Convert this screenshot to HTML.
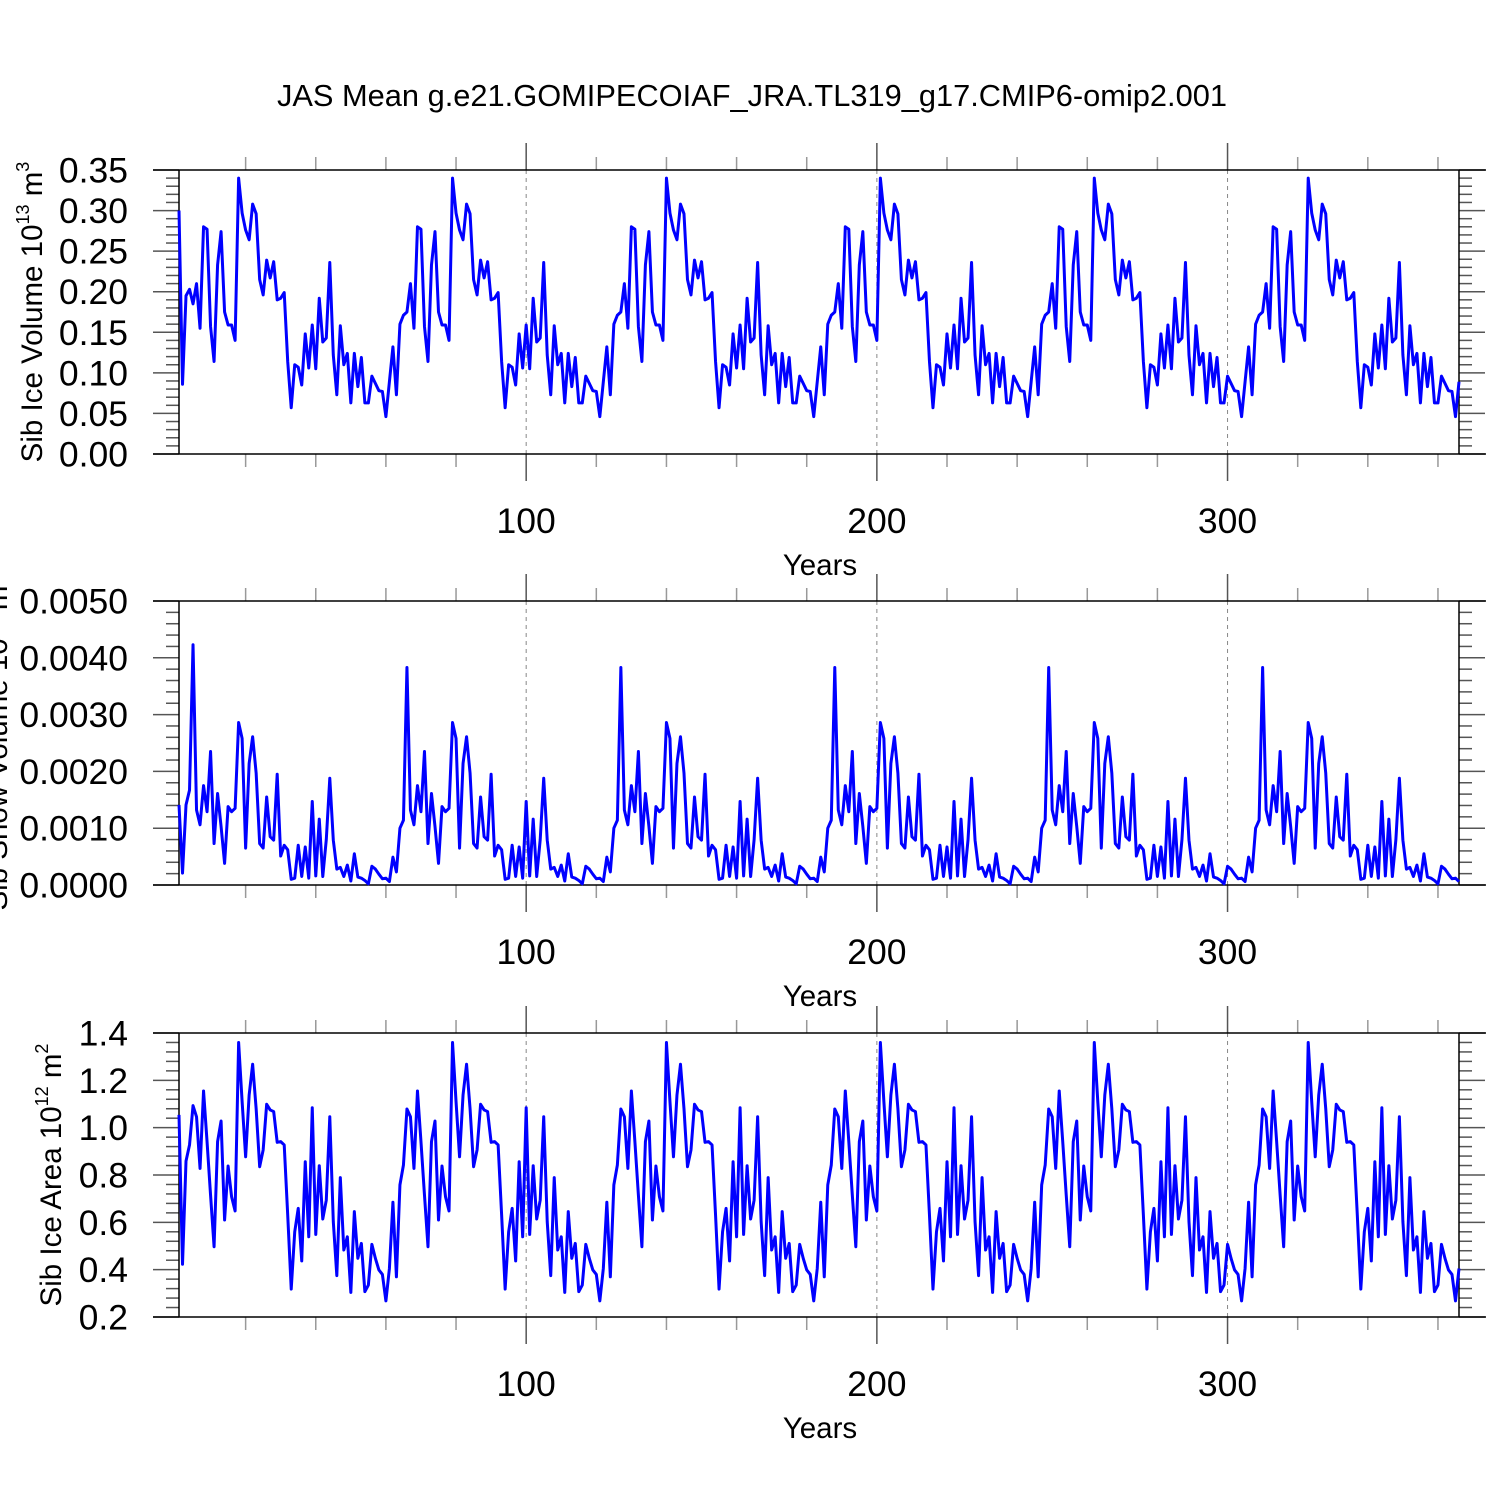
<!DOCTYPE html>
<html><head><meta charset="utf-8">
<style>
html,body{margin:0;padding:0;background:#fff;}
svg{display:block;font-family:"Liberation Sans",Arial,sans-serif;}
</style></head>
<body>
<svg id="chart" width="1500" height="1500" viewBox="0 0 1500 1500" xmlns="http://www.w3.org/2000/svg">
<rect width="1500" height="1500" fill="#fff"/>
<text x="752" y="106" font-size="30.8" text-anchor="middle">JAS Mean g.e21.GOMIPECOIAF_JRA.TL319_g17.CMIP6-omip2.001</text>
</svg>
<script>
const years = Array.from({length:366},(_,i)=>i+1);
const iceVolume = [0.30,0.086,0.195,0.203,0.185,
0.21,0.155,0.28,0.277,0.157,0.114,0.233,0.274,0.175,0.159,0.159,0.14,0.34,0.297,0.276,0.264,0.308,0.296,0.215,0.196,0.239,0.217,0.237,0.19,0.192,0.199,0.114,0.057,0.11,0.107,0.085,0.148,0.106,0.159,0.105,0.192,0.138,0.143,0.236,0.122,0.073,0.158,0.11,0.124,0.063,0.124,0.083,0.119,0.063,0.063,0.096,0.087,0.078,0.077,0.046,0.089,
0.132,0.073,0.16,0.171,0.175,
0.21,0.155,0.28,0.277,0.157,0.114,0.233,0.274,0.175,0.159,0.159,0.14,0.34,0.297,0.276,0.264,0.308,0.296,0.215,0.196,0.239,0.217,0.237,0.19,0.192,0.199,0.114,0.057,0.11,0.107,0.085,0.148,0.106,0.159,0.105,0.192,0.138,0.143,0.236,0.122,0.073,0.158,0.11,0.124,0.063,0.124,0.083,0.119,0.063,0.063,0.096,0.087,0.078,0.077,0.046,0.089,
0.132,0.073,0.16,0.171,0.175,
0.21,0.155,0.28,0.277,0.157,0.114,0.233,0.274,0.175,0.159,0.159,0.14,0.34,0.297,0.276,0.264,0.308,0.296,0.215,0.196,0.239,0.217,0.237,0.19,0.192,0.199,0.114,0.057,0.11,0.107,0.085,0.148,0.106,0.159,0.105,0.192,0.138,0.143,0.236,0.122,0.073,0.158,0.11,0.124,0.063,0.124,0.083,0.119,0.063,0.063,0.096,0.087,0.078,0.077,0.046,0.089,
0.132,0.073,0.16,0.171,0.175,
0.21,0.155,0.28,0.277,0.157,0.114,0.233,0.274,0.175,0.159,0.159,0.14,0.34,0.297,0.276,0.264,0.308,0.296,0.215,0.196,0.239,0.217,0.237,0.19,0.192,0.199,0.114,0.057,0.11,0.107,0.085,0.148,0.106,0.159,0.105,0.192,0.138,0.143,0.236,0.122,0.073,0.158,0.11,0.124,0.063,0.124,0.083,0.119,0.063,0.063,0.096,0.087,0.078,0.077,0.046,0.089,
0.132,0.073,0.16,0.171,0.175,
0.21,0.155,0.28,0.277,0.157,0.114,0.233,0.274,0.175,0.159,0.159,0.14,0.34,0.297,0.276,0.264,0.308,0.296,0.215,0.196,0.239,0.217,0.237,0.19,0.192,0.199,0.114,0.057,0.11,0.107,0.085,0.148,0.106,0.159,0.105,0.192,0.138,0.143,0.236,0.122,0.073,0.158,0.11,0.124,0.063,0.124,0.083,0.119,0.063,0.063,0.096,0.087,0.078,0.077,0.046,0.089,
0.132,0.073,0.16,0.171,0.175,
0.21,0.155,0.28,0.277,0.157,0.114,0.233,0.274,0.175,0.159,0.159,0.14,0.34,0.297,0.276,0.264,0.308,0.296,0.215,0.196,0.239,0.217,0.237,0.19,0.192,0.199,0.114,0.057,0.11,0.107,0.085,0.148,0.106,0.159,0.105,0.192,0.138,0.143,0.236,0.122,0.073,0.158,0.11,0.124,0.063,0.124,0.083,0.119,0.063,0.063,0.096,0.087,0.078,0.077,0.046,0.089];
const snowVolume = [0.00141,0.00021,0.00141,0.00167,0.00423,
0.00132,0.00106,0.00175,0.00129,0.00235,0.00073,0.00161,0.00103,0.00038,0.00138,0.00129,0.00135,0.00286,0.00258,0.00065,0.00214,0.00261,0.00197,0.00073,0.00065,0.00155,0.00085,0.00079,0.00195,0.00051,0.0007,0.00062,0.0001,0.00012,0.0007,0.00015,0.00067,0.00012,0.00147,0.00016,0.00116,0.00015,0.0008,0.00188,0.00079,0.00028,0.00031,0.00015,0.00035,0.00007,0.00055,0.00014,0.00012,0.00008,0.00002,0.00033,0.00028,0.00019,0.00011,0.00012,0.00006,
0.00049,0.00023,0.001,0.00114,0.00383,
0.00132,0.00106,0.00175,0.00129,0.00235,0.00073,0.00161,0.00103,0.00038,0.00138,0.00129,0.00135,0.00286,0.00258,0.00065,0.00214,0.00261,0.00197,0.00073,0.00065,0.00155,0.00085,0.00079,0.00195,0.00051,0.0007,0.00062,0.0001,0.00012,0.0007,0.00015,0.00067,0.00012,0.00147,0.00016,0.00116,0.00015,0.0008,0.00188,0.00079,0.00028,0.00031,0.00015,0.00035,0.00007,0.00055,0.00014,0.00012,0.00008,0.00002,0.00033,0.00028,0.00019,0.00011,0.00012,0.00006,
0.00049,0.00023,0.001,0.00114,0.00383,
0.00132,0.00106,0.00175,0.00129,0.00235,0.00073,0.00161,0.00103,0.00038,0.00138,0.00129,0.00135,0.00286,0.00258,0.00065,0.00214,0.00261,0.00197,0.00073,0.00065,0.00155,0.00085,0.00079,0.00195,0.00051,0.0007,0.00062,0.0001,0.00012,0.0007,0.00015,0.00067,0.00012,0.00147,0.00016,0.00116,0.00015,0.0008,0.00188,0.00079,0.00028,0.00031,0.00015,0.00035,0.00007,0.00055,0.00014,0.00012,0.00008,0.00002,0.00033,0.00028,0.00019,0.00011,0.00012,0.00006,
0.00049,0.00023,0.001,0.00114,0.00383,
0.00132,0.00106,0.00175,0.00129,0.00235,0.00073,0.00161,0.00103,0.00038,0.00138,0.00129,0.00135,0.00286,0.00258,0.00065,0.00214,0.00261,0.00197,0.00073,0.00065,0.00155,0.00085,0.00079,0.00195,0.00051,0.0007,0.00062,0.0001,0.00012,0.0007,0.00015,0.00067,0.00012,0.00147,0.00016,0.00116,0.00015,0.0008,0.00188,0.00079,0.00028,0.00031,0.00015,0.00035,0.00007,0.00055,0.00014,0.00012,0.00008,0.00002,0.00033,0.00028,0.00019,0.00011,0.00012,0.00006,
0.00049,0.00023,0.001,0.00114,0.00383,
0.00132,0.00106,0.00175,0.00129,0.00235,0.00073,0.00161,0.00103,0.00038,0.00138,0.00129,0.00135,0.00286,0.00258,0.00065,0.00214,0.00261,0.00197,0.00073,0.00065,0.00155,0.00085,0.00079,0.00195,0.00051,0.0007,0.00062,0.0001,0.00012,0.0007,0.00015,0.00067,0.00012,0.00147,0.00016,0.00116,0.00015,0.0008,0.00188,0.00079,0.00028,0.00031,0.00015,0.00035,0.00007,0.00055,0.00014,0.00012,0.00008,0.00002,0.00033,0.00028,0.00019,0.00011,0.00012,0.00006,
0.00049,0.00023,0.001,0.00114,0.00383,
0.00132,0.00106,0.00175,0.00129,0.00235,0.00073,0.00161,0.00103,0.00038,0.00138,0.00129,0.00135,0.00286,0.00258,0.00065,0.00214,0.00261,0.00197,0.00073,0.00065,0.00155,0.00085,0.00079,0.00195,0.00051,0.0007,0.00062,0.0001,0.00012,0.0007,0.00015,0.00067,0.00012,0.00147,0.00016,0.00116,0.00015,0.0008,0.00188,0.00079,0.00028,0.00031,0.00015,0.00035,0.00007,0.00055,0.00014,0.00012,0.00008,0.00002,0.00033,0.00028,0.00019,0.00011,0.00012,0.00006];
const iceArea = [1.054,0.423,0.859,0.927,1.093,
1.046,0.828,1.155,0.941,0.715,0.497,0.941,1.028,0.61,0.838,0.708,0.648,1.36,1.11,0.877,1.138,1.268,1.08,0.835,0.906,1.099,1.075,1.068,0.938,0.941,0.927,0.631,0.318,0.56,0.659,0.437,0.856,0.539,1.084,0.549,0.839,0.614,0.694,1.046,0.603,0.375,0.789,0.483,0.539,0.304,0.645,0.448,0.511,0.307,0.335,0.507,0.448,0.399,0.38,0.268,0.405,
0.685,0.37,0.758,0.842,1.079,
1.046,0.828,1.155,0.941,0.715,0.497,0.941,1.028,0.61,0.838,0.708,0.648,1.36,1.11,0.877,1.138,1.268,1.08,0.835,0.906,1.099,1.075,1.068,0.938,0.941,0.927,0.631,0.318,0.56,0.659,0.437,0.856,0.539,1.084,0.549,0.839,0.614,0.694,1.046,0.603,0.375,0.789,0.483,0.539,0.304,0.645,0.448,0.511,0.307,0.335,0.507,0.448,0.399,0.38,0.268,0.405,
0.685,0.37,0.758,0.842,1.079,
1.046,0.828,1.155,0.941,0.715,0.497,0.941,1.028,0.61,0.838,0.708,0.648,1.36,1.11,0.877,1.138,1.268,1.08,0.835,0.906,1.099,1.075,1.068,0.938,0.941,0.927,0.631,0.318,0.56,0.659,0.437,0.856,0.539,1.084,0.549,0.839,0.614,0.694,1.046,0.603,0.375,0.789,0.483,0.539,0.304,0.645,0.448,0.511,0.307,0.335,0.507,0.448,0.399,0.38,0.268,0.405,
0.685,0.37,0.758,0.842,1.079,
1.046,0.828,1.155,0.941,0.715,0.497,0.941,1.028,0.61,0.838,0.708,0.648,1.36,1.11,0.877,1.138,1.268,1.08,0.835,0.906,1.099,1.075,1.068,0.938,0.941,0.927,0.631,0.318,0.56,0.659,0.437,0.856,0.539,1.084,0.549,0.839,0.614,0.694,1.046,0.603,0.375,0.789,0.483,0.539,0.304,0.645,0.448,0.511,0.307,0.335,0.507,0.448,0.399,0.38,0.268,0.405,
0.685,0.37,0.758,0.842,1.079,
1.046,0.828,1.155,0.941,0.715,0.497,0.941,1.028,0.61,0.838,0.708,0.648,1.36,1.11,0.877,1.138,1.268,1.08,0.835,0.906,1.099,1.075,1.068,0.938,0.941,0.927,0.631,0.318,0.56,0.659,0.437,0.856,0.539,1.084,0.549,0.839,0.614,0.694,1.046,0.603,0.375,0.789,0.483,0.539,0.304,0.645,0.448,0.511,0.307,0.335,0.507,0.448,0.399,0.38,0.268,0.405,
0.685,0.37,0.758,0.842,1.079,
1.046,0.828,1.155,0.941,0.715,0.497,0.941,1.028,0.61,0.838,0.708,0.648,1.36,1.11,0.877,1.138,1.268,1.08,0.835,0.906,1.099,1.075,1.068,0.938,0.941,0.927,0.631,0.318,0.56,0.659,0.437,0.856,0.539,1.084,0.549,0.839,0.614,0.694,1.046,0.603,0.375,0.789,0.483,0.539,0.304,0.645,0.448,0.511,0.307,0.335,0.507,0.448,0.399,0.38,0.268,0.405];
const xTickLabels = ["100","200","300"];
const xTickValues = [100,200,300];
const volTicks = ["0.00","0.05","0.10","0.15","0.20","0.25","0.30","0.35"];
const snowTicks = ["0.0000","0.0010","0.0020","0.0030","0.0040","0.0050"];
const areaTicks = ["0.2","0.4","0.6","0.8","1.0","1.2","1.4"];

const NS = "http://www.w3.org/2000/svg";
const svg = document.getElementById('chart');
const X0 = 179, X1 = 1459, XMIN = 1, XMAX = 366;
function xs(v){ return X0 + (v - XMIN) / (XMAX - XMIN) * (X1 - X0); }
function mk(tag, attrs, parent){
  const e = document.createElementNS(NS, tag);
  for (const k in attrs) e.setAttribute(k, attrs[k]);
  (parent || svg).appendChild(e);
  return e;
}
function drawPanel(key, top, bot, ymin, ymax, minorStep, ticks, series, ylabel, ylabelX){
  const g = mk('g', {});
  
  
  const ys = v => bot - (v - ymin) / (ymax - ymin) * (bot - top);
  xTickValues.forEach(v => {
    const l = mk('line', {x1: xs(v), x2: xs(v), y1: top, y2: bot, stroke: '#888', 'stroke-width': 1, 'stroke-dasharray': '4,4'}, g);
    
    
  });
  for (let v = 20; v <= 360; v += 20) {
    const major = v % 100 === 0;
    const len = major ? 27 : 13;
    mk('line', {x1: xs(v), x2: xs(v), y1: top - len, y2: top, stroke: major ? '#555' : '#999', 'stroke-width': 1.5}, g);
    mk('line', {x1: xs(v), x2: xs(v), y1: bot, y2: bot + len, stroke: major ? '#555' : '#999', 'stroke-width': 1.5}, g);
  }
  const nMin = Math.round((ymax - ymin) / minorStep);
  const majorEvery = Math.round((ymax - ymin) / (ticks.length - 1) / minorStep);
  for (let i = 0; i <= nMin; i++) {
    const y = ys(ymin + i * minorStep);
    const major = i % majorEvery === 0;
    const len = major ? 26 : 13;
    mk('line', {x1: X0 - len, x2: X0, y1: y, y2: y, stroke: '#555', 'stroke-width': 1.5}, g);
    mk('line', {x1: X1, x2: X1 + len, y1: y, y2: y, stroke: '#555', 'stroke-width': 1.5}, g);
  }
  const f = mk('path', {d: `M153 ${top}H1486M153 ${bot}H1486M${X0} ${top}V${bot}M${X1} ${top}V${bot}`, stroke: '#000', 'stroke-width': 1.5, fill: 'none'}, g);
  
  
  ticks.forEach((t, i) => {
    const v = ymin + i * (ymax - ymin) / (ticks.length - 1);
    const tx = mk('text', {x: 128, y: ys(v) + 12.5, 'font-size': 35.5, 'text-anchor': 'end'}, g);
    tx.textContent = t;
    
    
  });
  xTickLabels.forEach((t, i) => {
    const tx = mk('text', {x: xs(xTickValues[i]), y: bot + 79, 'font-size': 35.5, 'text-anchor': 'middle'}, g);
    tx.textContent = t;
    
    
  });
  const xt = mk('text', {x: 820, y: bot + 121, 'font-size': 29.5, 'text-anchor': 'middle'}, g);
  xt.textContent = 'Years';
  
  
  const cy = (top + bot) / 2;
  const yt = mk('text', {x: ylabelX, y: cy, 'font-size': 29.5, 'text-anchor': 'middle', transform: `rotate(-90 ${ylabelX} ${cy})`}, g);
  yt.innerHTML = ylabel;
  
  
  const d = series.map((v, i) => (i ? 'L' : 'M') + xs(years[i]).toFixed(2) + ' ' + ys(v).toFixed(2)).join('');
  const p = mk('path', {d: d, stroke: '#0000ff', 'stroke-width': 3, fill: 'none', 'stroke-linejoin': 'round'}, g);
  
  
}
drawPanel('ice-volume', 170, 454, 0, 0.35, 0.01, volTicks, iceVolume,
  'Sib Ice Volume 10<tspan font-size="18" dy="-13">13</tspan><tspan dy="13"> m</tspan><tspan font-size="18" dy="-13">3</tspan>', 42);
drawPanel('snow-volume', 601, 885, 0, 0.005, 0.0002, snowTicks, snowVolume,
  'Sib Snow Volume 10<tspan font-size="18" dy="-13">13</tspan><tspan dy="13"> m</tspan><tspan font-size="18" dy="-13">3</tspan>', 7);
drawPanel('ice-area', 1033, 1317, 0.2, 1.4, 0.04, areaTicks, iceArea,
  'Sib Ice Area 10<tspan font-size="18" dy="-13">12</tspan><tspan dy="13"> m</tspan><tspan font-size="18" dy="-13">2</tspan>', 61);
</script>
</body></html>
